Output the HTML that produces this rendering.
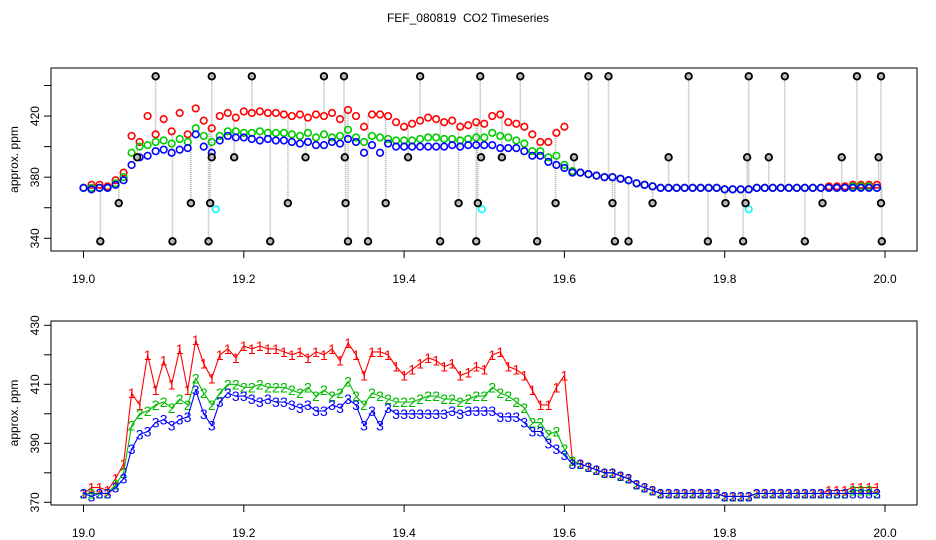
<!DOCTYPE html>
<html><head><meta charset="utf-8"><style>
html,body{margin:0;padding:0;background:#fff}
svg{display:block;font-family:"Liberation Sans",sans-serif}
</style></head><body>
<svg id="chart" width="936" height="540" viewBox="0 0 936 540">
<text x="468" y="22" font-size="12" text-anchor="middle" xml:space="preserve" style="white-space:pre">FEF_080819  CO2 Timeseries</text>
<g id="topPanel"></g>
<g id="botPanel"></g>
</svg>
<script>
const times = [19.00,19.01,19.02,19.03,19.04,19.05,19.06,19.07,19.08,19.09,19.10,19.11,19.12,19.13,19.14,19.15,19.16,19.17,19.18,19.19,19.20,19.21,19.22,19.23,19.24,19.25,19.26,19.27,19.28,19.29,19.30,19.31,19.32,19.33,19.34,19.35,19.36,19.37,19.38,19.39,19.40,19.41,19.42,19.43,19.44,19.45,19.46,19.47,19.48,19.49,19.50,19.51,19.52,19.53,19.54,19.55,19.56,19.57,19.58,19.59,19.60,19.61,19.62,19.63,19.64,19.65,19.66,19.67,19.68,19.69,19.70,19.71,19.72,19.73,19.74,19.75,19.76,19.77,19.78,19.79,19.80,19.81,19.82,19.83,19.84,19.85,19.86,19.87,19.88,19.89,19.90,19.91,19.92,19.93,19.94,19.95,19.96,19.97,19.98,19.99];
const series1 = [373,375,375,374,378,383,407,403,420,408,418,410,422,408,425,417,412,420,422,419,423,422,423,422,422,421,420,421,419,421,420,422,418,424,420,413,421,421,420,416,413,415,417,419,418,416,417,413,414,416,415,420,421,416,415,413,408,403,403,409,413,384,383,382,381,380,380,379,378,376,375,374,373,373,373,373,373,373,373,373,372,372,372,372,373,373,373,373,373,373,373,373,373,374,374,374,375,375,375,375];
const series2 = [373,373,373,373,376,380,396,400,401,403,404,402,405,403,412,407,403,407,410,410,409,409,410,409,409,409,408,407,409,406,408,406,407,411,406,403,407,406,405,404,404,404,405,406,406,405,405,404,405,406,406,409,407,406,404,402,397,397,393,394,388,384,383,382,381,380,380,379,378,376,375,374,373,373,373,373,373,373,373,373,372,372,372,372,373,373,373,373,373,373,373,373,373,373,373,373,374,374,374,373];
const series3 = [373,372,373,373,375,378,388,393,394,397,398,396,398,399,408,400,396,404,407,406,406,405,404,405,404,404,403,402,403,401,401,403,402,405,403,396,401,396,402,400,400,400,400,400,400,400,401,400,401,401,401,401,399,399,399,397,394,394,390,388,386,383,383,382,381,380,380,379,378,376,375,374,373,373,373,373,373,373,373,373,372,372,372,372,373,373,373,373,373,373,373,373,373,373,373,373,373,373,373,373];
const outlierTimes = [19.09,19.16,19.21,19.30,19.325,19.42,19.495,19.545,19.63,19.655,19.755,19.83,19.875,19.965,19.995,19.067,19.16,19.188,19.277,19.326,19.405,19.496,19.522,19.612,19.73,19.828,19.855,19.946,19.992,19.044,19.134,19.158,19.255,19.327,19.377,19.468,19.492,19.589,19.66,19.71,19.801,19.826,19.922,19.995,19.021,19.111,19.156,19.233,19.33,19.355,19.445,19.49,19.566,19.663,19.68,19.779,19.823,19.90,19.996];
const outlierValues = [446,446,446,446,446,446,446,446,446,446,446,446,446,446,446,393,393,393,393,393,393,393,393,393,393,393,393,393,393,363,363,363,363,363,363,363,363,363,363,363,363,363,363,363,338,338,338,338,338,338,338,338,338,338,338,338,338,338,338];
const cyanTimes = [19.165,19.497,19.83];
const cyanValues = [359,359,359];
const xTicks = [19.0,19.2,19.4,19.6,19.8,20.0];
const topYTicks = [340,360,380,400,420,440];
const topYLabels = [340,380,420];
const botYTicks = [370,380,390,400,410,420,430];
const botYLabels = [370,390,410,430];

const NS='http://www.w3.org/2000/svg';
function mk(parent,tag,attrs){const e=document.createElementNS(NS,tag);for(const k in attrs)e.setAttribute(k,attrs[k]);parent.appendChild(e);return e;}
const X = t => 83.5 + (t-19.0)*801.5;
const topY = v => 238.3 - (v-340)*1.528;
const botY = v => 502.3 - (v-370)*2.95;

function frame(g,y0,y1,Y,yt,yl){
  const box=mk(g,'rect',{x:51,y:y0,width:866,height:y1-y0,fill:'none',stroke:'#000','stroke-width':1});
  
  
  xTicks.forEach(t=>{
    const l=mk(g,'line',{x1:X(t),x2:X(t),y1:y1,y2:y1+7,stroke:'#000'});
    
    
    const tx=mk(g,'text',{x:X(t),y:y1+32,'font-size':12,'text-anchor':'middle'});
    tx.textContent=t.toFixed(1);
    
    
  });
  yt.forEach(v=>{
    const l=mk(g,'line',{x1:44,x2:51,y1:Y(v),y2:Y(v),stroke:'#000'});
    
    
  });
  yl.forEach(v=>{
    const tx=mk(g,'text',{x:0,y:0,'font-size':12,'text-anchor':'middle',transform:`translate(39,${Y(v)}) rotate(-90)`});
    tx.textContent=v;
    
    
  });
  const yt2=mk(g,'text',{x:0,y:0,'font-size':12,'text-anchor':'middle',transform:`translate(18,${(y0+y1)/2}) rotate(-90)`});
  yt2.textContent='approx. ppm';
  
  
}

const topG=document.getElementById('topPanel');
frame(topG,68,251,topY,topYTicks,topYLabels);
outlierTimes.forEach((t,i)=>{
  let k=Math.round((t-19)*100);k=Math.max(0,Math.min(times.length-1,k));
  const l=mk(topG,'line',{x1:X(t),x2:X(t),y1:topY(outlierValues[i]),y2:topY(series1[k]),stroke:'#aaa','stroke-width':1.5,'stroke-dasharray':'1 1'});
  
  
});
[[series1,'#f00','series-1-point'],[series2,'#0c0','series-2-point'],[series3,'#00f','series-3-point']].forEach(([s,c,n])=>{
  s.forEach((v,i)=>{
    const e=mk(topG,'circle',{cx:X(times[i]),cy:topY(v),r:3.3,fill:'none',stroke:c,'stroke-width':1.6});
    
    
  });
});
cyanTimes.forEach((t,i)=>{
  const e=mk(topG,'circle',{cx:X(t),cy:topY(cyanValues[i]),r:3.3,fill:'none',stroke:'#0ff','stroke-width':1.6});
  
  
});
outlierTimes.forEach((t,i)=>{
  const e=mk(topG,'circle',{cx:X(t),cy:topY(outlierValues[i]),r:3.3,fill:'#bbb',stroke:'#000','stroke-width':1.8});
  
  
});

const botG=document.getElementById('botPanel');
frame(botG,321,505,botY,botYTicks,botYLabels);
[[series1,'#f00','1','series-1'],[series2,'#0b0','2','series-2'],[series3,'#00f','3','series-3']].forEach(([s,c,ch,n])=>{
  const pts=s.map((v,i)=>X(times[i]).toFixed(1)+','+botY(v).toFixed(1)).join(' ');
  const pl=mk(botG,'polyline',{points:pts,fill:'none',stroke:c,'stroke-width':1.1});
  
  
  s.forEach((v,i)=>{
    const tx=mk(botG,'text',{x:X(times[i]),y:botY(v)+5,'font-size':14,'text-anchor':'middle',fill:c});
    tx.textContent=ch;
    
    
  });
});
</script>
</body></html>
